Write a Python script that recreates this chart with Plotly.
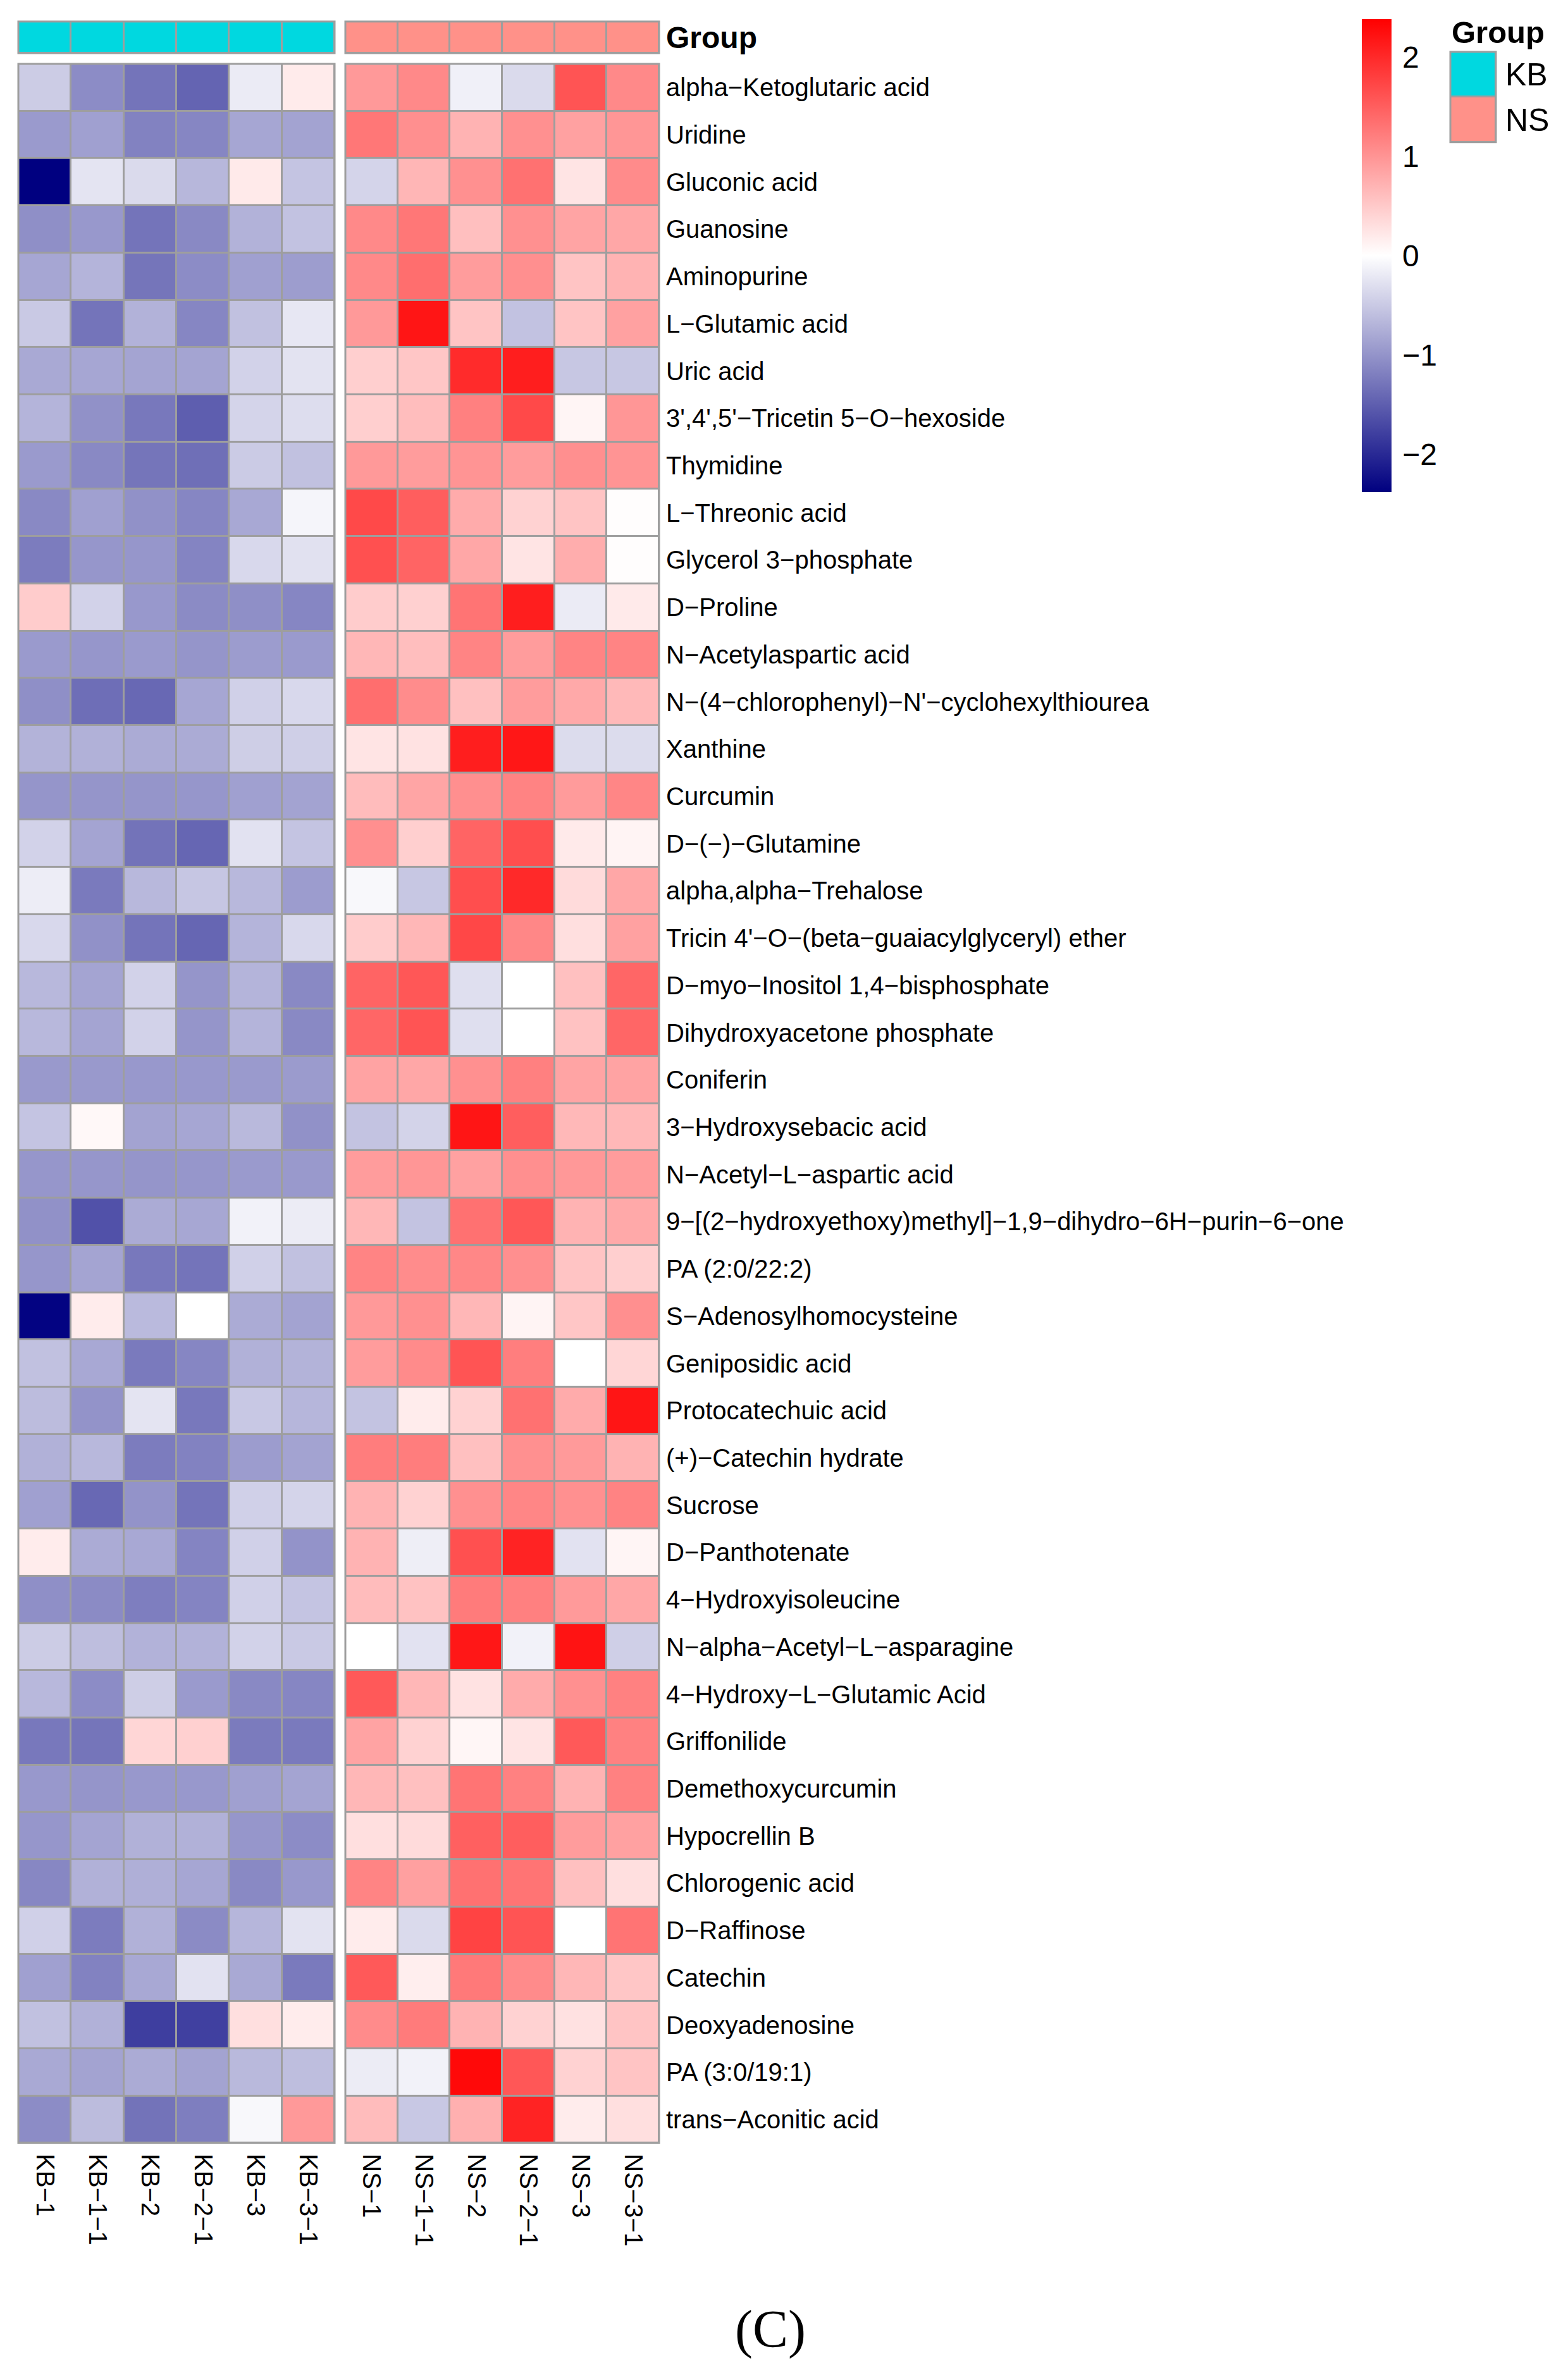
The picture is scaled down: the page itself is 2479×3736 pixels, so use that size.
import plotly.graph_objects as go

# metabolites, top to bottom
metabolites = [
    "alpha−Ketoglutaric acid", "Uridine", "Gluconic acid", "Guanosine", "Aminopurine",
    "L−Glutamic acid", "Uric acid", "3',4',5'−Tricetin 5−O−hexoside", "Thymidine",
    "L−Threonic acid", "Glycerol 3−phosphate", "D−Proline", "N−Acetylaspartic acid",
    "N−(4−chlorophenyl)−N'−cyclohexylthiourea", "Xanthine", "Curcumin", "D−(−)−Glutamine",
    "alpha,alpha−Trehalose", "Tricin 4'−O−(beta−guaiacylglyceryl) ether",
    "D−myo−Inositol 1,4−bisphosphate", "Dihydroxyacetone phosphate", "Coniferin",
    "3−Hydroxysebacic acid", "N−Acetyl−L−aspartic acid",
    "9−[(2−hydroxyethoxy)methyl]−1,9−dihydro−6H−purin−6−one", "PA (2:0/22:2)",
    "S−Adenosylhomocysteine", "Geniposidic acid", "Protocatechuic acid",
    "(+)−Catechin hydrate", "Sucrose", "D−Panthotenate", "4−Hydroxyisoleucine",
    "N−alpha−Acetyl−L−asparagine", "4−Hydroxy−L−Glutamic Acid", "Griffonilide",
    "Demethoxycurcumin", "Hypocrellin B", "Chlorogenic acid", "D−Raffinose", "Catechin",
    "Deoxyadenosine", "PA (3:0/19:1)", "trans−Aconitic acid",
]

kb_samples = ["KB−1", "KB−1−1", "KB−2", "KB−2−1", "KB−3", "KB−3−1"]
ns_samples = ["NS−1", "NS−1−1", "NS−2", "NS−2−1", "NS−3", "NS−3−1"]

groups = ["KB", "NS"]
group_colors = ["#00D8E0", "#FF9189"]

# scaled values (row z-scores), one row per metabolite
kb_z = [
    [-0.48, -1.07, -1.30, -1.45, -0.19, 0.19],
    [-0.94, -0.89, -1.17, -1.13, -0.83, -0.86],
    [-2.38, -0.25, -0.35, -0.67, 0.20, -0.55],
    [-1.05, -0.96, -1.30, -1.10, -0.72, -0.57],
    [-0.83, -0.70, -1.29, -1.07, -0.89, -0.91],
    [-0.50, -1.30, -0.72, -1.13, -0.58, -0.22],
    [-0.80, -0.83, -0.85, -0.85, -0.42, -0.26],
    [-0.70, -1.03, -1.26, -1.50, -0.40, -0.32],
    [-0.94, -1.10, -1.29, -1.34, -0.49, -0.58],
    [-1.10, -0.89, -1.03, -1.13, -0.81, -0.09],
    [-1.22, -0.98, -0.98, -1.15, -0.36, -0.28],
    [0.48, -0.42, -0.96, -1.08, -1.05, -1.13],
    [-0.94, -0.98, -0.94, -0.99, -0.92, -0.94],
    [-1.05, -1.35, -1.41, -0.83, -0.44, -0.36],
    [-0.71, -0.73, -0.78, -0.78, -0.46, -0.45],
    [-0.99, -0.99, -0.99, -0.98, -0.89, -0.86],
    [-0.42, -0.85, -1.31, -1.43, -0.27, -0.55],
    [-0.17, -1.24, -0.66, -0.53, -0.66, -0.92],
    [-0.36, -1.03, -1.30, -1.43, -0.70, -0.36],
    [-0.66, -0.85, -0.42, -0.99, -0.70, -1.10],
    [-0.66, -0.85, -0.42, -0.99, -0.70, -1.10],
    [-0.95, -0.95, -0.96, -0.96, -0.94, -0.93],
    [-0.55, 0.07, -0.86, -0.83, -0.65, -1.03],
    [-0.98, -0.98, -0.99, -0.98, -0.94, -0.95],
    [-1.03, -1.62, -0.78, -0.82, -0.12, -0.18],
    [-0.98, -0.85, -1.26, -1.30, -0.44, -0.58],
    [-2.35, 0.18, -0.64, 0.00, -0.78, -0.86],
    [-0.58, -0.81, -1.24, -1.13, -0.73, -0.71],
    [-0.63, -1.01, -0.25, -1.26, -0.51, -0.68],
    [-0.73, -0.66, -1.22, -1.17, -0.92, -0.86],
    [-0.89, -1.41, -1.01, -1.30, -0.44, -0.40],
    [0.18, -0.78, -0.81, -1.15, -0.44, -1.01],
    [-1.05, -1.08, -1.20, -1.15, -0.44, -0.55],
    [-0.48, -0.61, -0.72, -0.72, -0.42, -0.50],
    [-0.66, -1.07, -0.46, -0.94, -1.10, -1.13],
    [-1.26, -1.29, 0.38, 0.44, -1.23, -1.24],
    [-0.96, -0.99, -0.96, -0.96, -0.89, -0.85],
    [-0.98, -0.85, -0.73, -0.73, -0.98, -1.07],
    [-1.12, -0.73, -0.75, -0.83, -1.10, -0.96],
    [-0.44, -1.22, -0.73, -1.08, -0.68, -0.26],
    [-0.89, -1.17, -0.81, -0.27, -0.80, -1.24],
    [-0.58, -0.73, -1.80, -1.78, 0.30, 0.18],
    [-0.80, -0.86, -0.78, -0.86, -0.65, -0.61],
    [-1.07, -0.63, -1.31, -1.20, -0.07, 0.95],
]

ns_z = [
    [0.95, 1.10, -0.14, -0.35, 1.60, 1.10],
    [1.27, 1.05, 0.71, 1.04, 0.88, 0.98],
    [-0.40, 0.68, 1.04, 1.33, 0.25, 1.08],
    [1.10, 1.27, 0.60, 1.04, 0.85, 0.82],
    [1.10, 1.35, 0.92, 1.05, 0.55, 0.71],
    [0.95, 2.18, 0.55, -0.57, 0.55, 0.88],
    [0.45, 0.53, 1.98, 2.10, -0.52, -0.52],
    [0.45, 0.62, 1.19, 1.70, 0.09, 0.98],
    [0.95, 0.92, 1.00, 0.92, 1.05, 1.00],
    [1.70, 1.50, 0.78, 0.42, 0.55, 0.02],
    [1.63, 1.45, 0.82, 0.25, 0.77, 0.02],
    [0.48, 0.44, 1.30, 2.10, -0.19, 0.20],
    [0.67, 0.61, 1.15, 0.92, 1.15, 1.15],
    [1.35, 1.07, 0.59, 0.92, 0.80, 0.65],
    [0.25, 0.27, 2.10, 2.17, -0.33, -0.33],
    [0.63, 0.84, 1.05, 1.16, 0.93, 1.13],
    [1.05, 0.45, 1.45, 1.65, 0.20, 0.10],
    [-0.07, -0.52, 1.65, 2.00, 0.34, 0.82],
    [0.48, 0.67, 1.72, 1.12, 0.30, 0.88],
    [1.45, 1.57, -0.30, 0.00, 0.59, 1.43],
    [1.43, 1.60, -0.30, 0.00, 0.57, 1.43],
    [0.86, 0.82, 1.04, 1.19, 0.85, 0.86],
    [-0.56, -0.41, 2.18, 1.50, 0.66, 0.66],
    [0.92, 0.98, 0.88, 1.05, 0.96, 0.92],
    [0.67, -0.56, 1.33, 1.57, 0.71, 0.80],
    [1.15, 1.07, 1.12, 1.05, 0.55, 0.45],
    [0.95, 1.04, 0.67, 0.10, 0.53, 1.05],
    [0.92, 1.08, 1.60, 1.20, 0.00, 0.38],
    [-0.56, 0.18, 0.42, 1.33, 0.78, 2.18],
    [1.21, 1.21, 0.59, 1.04, 0.94, 0.71],
    [0.71, 0.42, 1.04, 1.13, 1.04, 1.16],
    [0.71, -0.16, 1.63, 2.05, -0.27, 0.09],
    [0.63, 0.57, 1.23, 1.19, 0.94, 0.82],
    [0.00, -0.27, 2.17, -0.12, 2.20, -0.45],
    [1.55, 0.67, 0.27, 0.78, 1.04, 1.18],
    [0.86, 0.42, 0.08, 0.25, 1.55, 1.18],
    [0.67, 0.59, 1.30, 1.18, 0.71, 1.18],
    [0.30, 0.34, 1.48, 1.50, 0.92, 0.88],
    [1.15, 0.89, 1.33, 1.30, 0.59, 0.30],
    [0.18, -0.35, 1.75, 1.60, 0.00, 1.30],
    [1.55, 0.16, 1.25, 1.08, 0.67, 0.53],
    [1.08, 1.23, 0.71, 0.42, 0.28, 0.55],
    [-0.18, -0.12, 2.30, 1.57, 0.42, 0.55],
    [0.63, -0.51, 0.74, 2.05, 0.18, 0.30],
]

W, H = 2479, 3736
OFF = 8  # the page body adds an 8px margin, so shift everything back
FONT = "Liberation Sans, Arial, Helvetica, sans-serif"
GRID = "#9E9E9E"
zlim = 2.38


def px_x(p):
    return (p - OFF) / W


def px_y(p):
    return 1 - (p - OFF) / H


group_scale = [[0, group_colors[0]], [0.5, group_colors[0]],
               [0.5, group_colors[1]], [1, group_colors[1]]]

fig = go.Figure()

# main heatmap blocks
for xa, samples, z in [("x", kb_samples, kb_z), ("x2", ns_samples, ns_z)]:
    fig.add_trace(go.Heatmap(
        x=samples, y=metabolites, z=z, xaxis=xa, yaxis="y",
        coloraxis="coloraxis", xgap=3, ygap=3,
    ))

# group annotation bar above the heatmap
for xa, samples, g in [("x", kb_samples, 0), ("x2", ns_samples, 1)]:
    fig.add_trace(go.Heatmap(
        x=samples, y=["<b>Group</b>"], z=[[g] * len(samples)],
        xaxis=xa, yaxis="y2", colorscale=group_scale, zmin=0, zmax=1,
        showscale=False, xgap=3, ygap=3, hoverinfo="skip",
    ))

# group legend boxes
fig.add_trace(go.Heatmap(
    x=["g"], y=groups, z=[[i] for i in range(len(groups))],
    xaxis="x3", yaxis="y3", colorscale=group_scale, zmin=0, zmax=1,
    showscale=False, xgap=3, ygap=3, hoverinfo="skip",
))

col_axis = dict(anchor="y", side="bottom", tickangle=90, ticks="",
                showgrid=False, zeroline=False, ticklabelstandoff=16,
                tickfont=dict(size=40, family=FONT, color="black"))

fig.update_layout(
    width=W, height=H,
    margin=dict(l=0, r=0, t=0, b=0),
    paper_bgcolor="white", plot_bgcolor=GRID,
    font=dict(family=FONT, color="black"),
    xaxis=dict(domain=[px_x(29), px_x(529)], **col_axis),
    xaxis2=dict(domain=[px_x(546), px_x(1042)], **col_axis),
    xaxis3=dict(domain=[px_x(2293), px_x(2365)], anchor="y3", visible=False),
    yaxis=dict(domain=[px_y(3390), px_y(100)], anchor="x2", side="right",
               autorange="reversed", ticks="", showgrid=False, zeroline=False,
               ticklabelstandoff=10,
               tickfont=dict(size=40, family=FONT, color="black")),
    yaxis2=dict(domain=[px_y(83), px_y(33)], anchor="x2", side="right",
                ticks="", showgrid=False, zeroline=False, ticklabelstandoff=10,
                tickfont=dict(size=48, family=FONT, color="black")),
    yaxis3=dict(domain=[px_y(224), px_y(81)], anchor="x3", side="right",
                autorange="reversed", ticks="", showgrid=False, zeroline=False,
                ticklabelstandoff=14,
                tickfont=dict(size=50, family=FONT, color="black")),
    coloraxis=dict(
        colorscale=[[0, "#000080"], [0.5, "#FFFFFF"], [1, "#FF0000"]],
        cmin=-zlim, cmax=zlim,
        colorbar=dict(
            x=px_x(2153), xanchor="left", y=px_y(29), yanchor="top",
            len=748, lenmode="pixels", thickness=47, thicknessmode="pixels",
            tickvals=[-2, -1, 0, 1, 2], ticktext=["−2", "−1", "0", "1", "2"],
            ticks="outside", ticklen=8, tickcolor="rgba(0,0,0,0)",
            outlinewidth=0, xpad=0, ypad=0,
            tickfont=dict(size=48, family=FONT, color="black"),
        ),
    ),
    showlegend=False,
)

# grey frames around each block
for xr, yr in [("x", "y"), ("x2", "y"), ("x", "y2"), ("x2", "y2"), ("x3", "y3")]:
    fig.add_shape(type="rect", xref=f"{xr} domain", yref=f"{yr} domain",
                  x0=0, x1=1, y0=0, y1=1, line=dict(color=GRID, width=3),
                  fillcolor="rgba(0,0,0,0)")

fig.add_annotation(text="<b>Group</b>", x=px_x(2293), y=px_y(50), xref="paper",
                   yref="paper", xanchor="left", yanchor="middle", showarrow=False,
                   font=dict(size=49, family=FONT, color="black"))

fig.add_annotation(text="(C)", x=px_x(1218), y=px_y(3685), xref="paper",
                   yref="paper", xanchor="center", yanchor="middle", showarrow=False,
                   font=dict(size=84, family="Liberation Serif, Times New Roman, serif",
                             color="black"))

fig.write_html("out.html")
